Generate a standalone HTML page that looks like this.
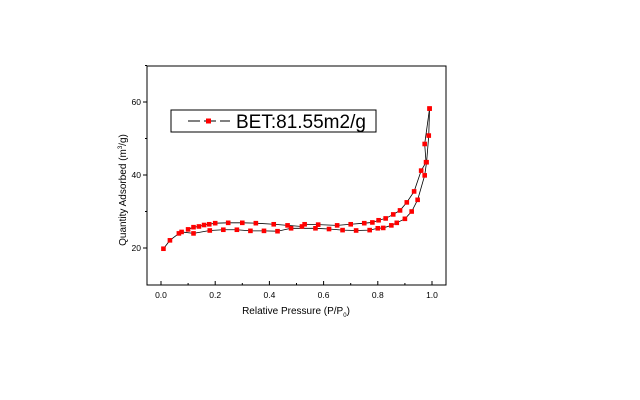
<!DOCTYPE html>
<html><head><meta charset="utf-8"><style>
html,body{margin:0;padding:0;background:#fff;}
svg{display:block;font-family:"Liberation Sans",Arial,sans-serif;}
</style></head><body>
<svg id="chart" width="640" height="400" viewBox="0 0 640 400">
<rect x="147" y="66" width="299" height="219" fill="none" stroke="#000" stroke-width="1"/>
<g id="axes"></g>
<g id="series"></g>
<text x="296" y="314" font-size="10" text-anchor="middle">Relative Pressure (P/P<tspan font-size="6" dy="3">0</tspan><tspan dy="-3">)</tspan></text>
<text transform="translate(126,190) rotate(-90)" font-size="10" text-anchor="middle">Quantity Adsorbed (m<tspan font-size="6" dy="-4">3</tspan><tspan dy="4">/g)</tspan></text>
<g>
<rect x="171" y="110" width="205" height="22" fill="#fff" stroke="#000" stroke-width="1"/>
<line x1="188" y1="121" x2="230" y2="121" stroke="#000" stroke-width="1" stroke-dasharray="12,4"/>
<rect x="206" y="118.5" width="5" height="5" fill="#f00"/>
<text x="236" y="128" font-size="19">BET:81.55m2/g</text>
</g>
</svg>
<script>
const xTicks = [0.0, 0.2, 0.4, 0.6, 0.8, 1.0];
const xTickLabels = ["0.0", "0.2", "0.4", "0.6", "0.8", "1.0"];
const yTicks = [20, 40, 60];
const yTickLabels = ["20", "40", "60"];
const adsP = [0.009,0.033,0.066,0.076,0.12,0.18,0.23,0.28,0.33,0.38,0.43,0.48,0.57,0.62,0.67,0.72,0.77,0.80,0.82,0.85,0.87,0.90,0.925,0.947,0.973,0.98,0.988,0.991];
const adsV = [19.8,22.1,24.0,24.4,24.0,24.8,25.0,25.0,24.7,24.7,24.6,25.4,25.4,25.2,24.9,24.8,24.9,25.4,25.5,26.2,26.9,28.0,30.0,33.2,39.9,43.5,50.8,58.2];
const desP = [0.991,0.973,0.978,0.96,0.934,0.907,0.882,0.857,0.829,0.803,0.78,0.75,0.70,0.65,0.58,0.53,0.52,0.467,0.416,0.35,0.30,0.248,0.20,0.178,0.159,0.14,0.12,0.10];
const desV = [58.2,48.5,43.5,41.2,35.5,32.5,30.3,29.2,28.1,27.6,27.0,26.8,26.5,26.2,26.4,26.5,25.9,26.2,26.5,26.8,26.9,26.9,26.8,26.5,26.3,25.9,25.7,25.1];

const NS = "http://www.w3.org/2000/svg";
const xS = p => 161 + 271 * p;
const yS = v => 248 - (v - 20) * 3.65;
const axes = document.getElementById("axes");
const series = document.getElementById("series");
function mk(tag, attrs, parent){const e=document.createElementNS(NS,tag);for(const k in attrs)e.setAttribute(k,attrs[k]);parent.appendChild(e);return e;}

xTicks.forEach((t,i)=>{
  const l=mk("line",{x1:xS(t),x2:xS(t),y1:285,y2:281,stroke:"#000"},axes);
  
  
  const tx=mk("text",{x:xS(t),y:298,"font-size":"8.5","text-anchor":"middle"},axes);
  tx.textContent=xTickLabels[i];
  
  
  if(i<xTicks.length-1){
    const m=mk("line",{x1:xS(t+0.1),x2:xS(t+0.1),y1:285,y2:283,stroke:"#000"},axes);
    
    
  }
});
yTicks.forEach((t,i)=>{
  const l=mk("line",{x1:147,x2:143,y1:yS(t),y2:yS(t),stroke:"#000"},axes);
  
  
  const tx=mk("text",{x:141,y:yS(t)+3,"font-size":"8.5","text-anchor":"end"},axes);
  tx.textContent=yTickLabels[i];
  
  
  const m=mk("line",{x1:147,x2:145,y1:yS(t+10),y2:yS(t+10),stroke:"#000"},axes);
  
  
});

function draw(P,V,name){
  const pl=mk("polyline",{points:P.map((p,i)=>xS(p)+","+yS(V[i])).join(" "),fill:"none",stroke:"#000","stroke-width":"0.8"},series);
  
  
  P.forEach((p,i)=>{
    const r=mk("rect",{x:xS(p)-2.3,y:yS(V[i])-2.3,width:4.6,height:4.6,fill:"#f00"},series);
    
    
  });
}
draw(adsP,adsV,"adsorption");
draw(desP,desV,"desorption");
</script>
</body></html>
